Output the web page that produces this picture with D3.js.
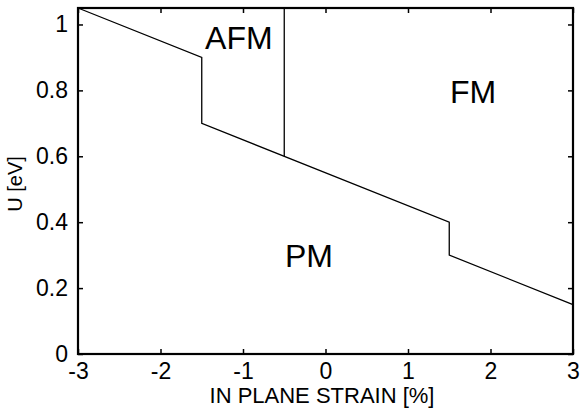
<!DOCTYPE html>
<html>
<head>
<meta charset="utf-8">
<script src="https://cdn.jsdelivr.net/npm/d3@7"></script>
<style>
  body { margin: 0; background: #fff; }
  text { font-family: "Liberation Sans", Arial, Helvetica, sans-serif; }
</style>
</head>
<body>
<div id="chart-area"></div>
<script>

var width = 583,
    height = 411;

var margin = {left: 78, right: 10, top: 8, bottom: 57};

// phase boundary data
var lowerX = [-3, -1.5, -1.5, 1.5, 1.5, 3];
var lowerU = [1.05, 0.9, 0.7, 0.4, 0.3, 0.15];
var afmX = [-0.5, -0.5];
var afmU = [0.6, 1.05];

var xTicks = [-3, -2, -1, 0, 1, 2, 3];
var yTicks = [0, 0.2, 0.4, 0.6, 0.8, 1];

var phaseNames = ["AFM", "FM", "PM"];
var phaseX = [-1.05, 1.79, -0.2];
var phaseU = [0.926, 0.762, 0.264];

var svg = d3.select("#chart-area").append("svg")
    .attr("width", width)
    .attr("height", height);

var x = d3.scaleLinear().domain([-3, 3]).range([margin.left, width - margin.right]);
var y = d3.scaleLinear().domain([0, 1.05]).range([height - margin.bottom, margin.top]);

var x0 = x.range()[0], x1 = x.range()[1];
var y0 = y.range()[0], y1 = y.range()[1];

// plain hyphen for negatives, like the original
var fmt = function(d) { return String(d); };

// Axes (ticks pointing inward)
var xAxis = svg.append("g")
    .attr("transform", "translate(0," + y0 + ")")
    .call(d3.axisBottom(x).tickValues(xTicks).tickSizeInner(-5).tickSizeOuter(0).tickPadding(9)
        .tickFormat(fmt));

var xTop = svg.append("g")
    .attr("transform", "translate(0," + y1 + ")")
    .call(d3.axisTop(x).tickValues(xTicks).tickSizeInner(-5).tickSizeOuter(0).tickFormat(""));

var yAxis = svg.append("g")
    .attr("transform", "translate(" + x0 + ",0)")
    .call(d3.axisLeft(y).tickValues(yTicks).tickSizeInner(-5).tickSizeOuter(0).tickPadding(10)
        .tickFormat(fmt));

var yRight = svg.append("g")
    .attr("transform", "translate(" + x1 + ",0)")
    .call(d3.axisRight(y).tickValues(yTicks).tickSizeInner(-5).tickSizeOuter(0).tickFormat(""));

svg.selectAll(".domain").remove();
svg.selectAll(".tick line").attr("stroke", "#000").attr("stroke-width", 1.5);
svg.selectAll(".tick text")
    .attr("fill", "#000")
    .style("font-family", "'Liberation Sans', Arial, Helvetica, sans-serif")
    .style("font-size", "23px");

// Frame
svg.append("rect")
    .attr("x", x0)
    .attr("y", y1)
    .attr("width", x1 - x0)
    .attr("height", y0 - y1)
    .attr("fill", "none")
    .attr("stroke", "#000")
    .attr("stroke-width", 2.2);

// Phase boundaries
var line = d3.line()
    .x(function(d) { return x(d[0]); })
    .y(function(d) { return y(d[1]); });

svg.append("path")
    .datum(d3.zip(lowerX, lowerU))
    .attr("d", line)
    .attr("fill", "none")
    .attr("stroke", "#000")
    .attr("stroke-width", 1.3);

svg.append("path")
    .datum(d3.zip(afmX, afmU))
    .attr("d", line)
    .attr("fill", "none")
    .attr("stroke", "#000")
    .attr("stroke-width", 1.3);

// Phase labels
svg.selectAll(".phase")
    .data(phaseNames)
    .enter().append("text")
    .attr("class", "phase")
    .attr("x", function(d, i) { return x(phaseX[i]); })
    .attr("y", function(d, i) { return y(phaseU[i]); })
    .attr("text-anchor", "middle")
    .style("font-size", "32px")
    .text(function(d) { return d; });

// Axis titles
svg.append("text")
    .attr("x", 322)
    .attr("y", 403)
    .attr("text-anchor", "middle")
    .style("font-size", "22px")
    .text("IN PLANE STRAIN [%]");

svg.append("text")
    .attr("transform", "translate(22,184) rotate(-90)")
    .attr("text-anchor", "middle")
    .style("font-size", "20px")
    .text("U [eV]");

</script>
</body>
</html>
